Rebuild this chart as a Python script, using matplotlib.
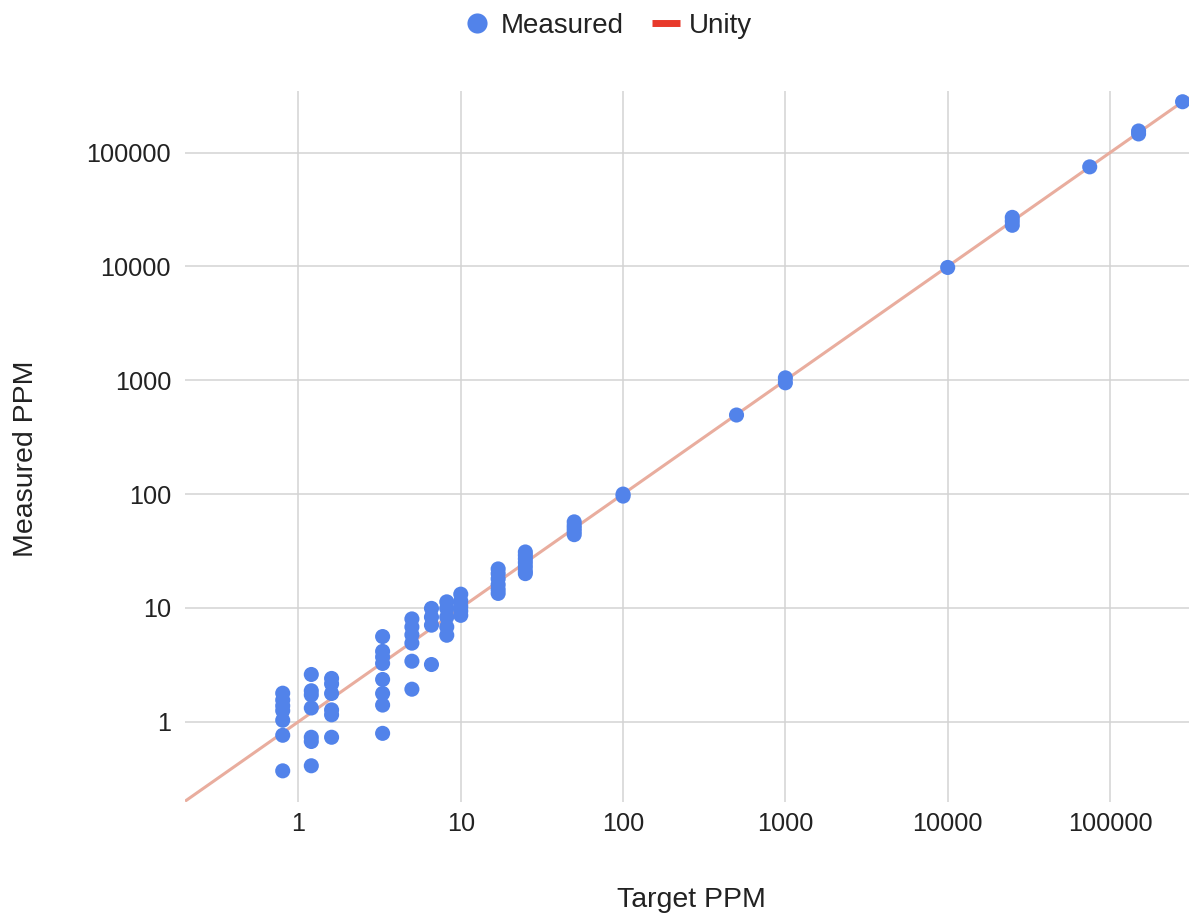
import matplotlib
matplotlib.use("Agg")
import matplotlib.pyplot as plt
from matplotlib.lines import Line2D

plt.rcParams['font.family'] = ['Liberation Sans', 'DejaVu Sans']

# ---- data ----
target_levels = [0.8, 1.2, 1.6, 3.3, 5, 6.6, 8.2, 10, 17, 25, 50, 100,
                 500, 1000, 10000, 25000, 75000, 150000, 280000]
measured_groups = [
    [1.78, 1.55, 1.38, 1.25, 1.03, 0.76, 0.37],
    [2.6, 1.87, 1.72, 1.32, 0.73, 0.67, 0.41],
    [2.4, 2.15, 1.77, 1.27, 1.15, 0.73],
    [5.6, 4.15, 3.7, 3.25, 2.35, 1.77, 1.40, 0.79],
    [8.0, 6.8, 5.8, 4.9, 3.4, 1.93],
    [9.9, 8.3, 7.05, 3.18],
    [11.3, 9.9, 8.3, 6.8, 5.75],
    [13.2, 11.5, 10.3, 9.4, 8.6],
    [22, 20, 18, 16, 14.5, 13.4],
    [31, 29, 27, 25, 23, 21, 20],
    [57, 53, 50, 47, 44],
    [100, 96],
    [495],
    [1050, 950],
    [9800],
    [27000, 25000, 23000],
    [75000],
    [155000, 146000],
    [280000],
]
unity_range = [0.2, 306700]
x_ticks = [1, 10, 100, 1000, 10000, 100000]
y_ticks = [1, 10, 100, 1000, 10000, 100000]
tick_labels = ["1", "10", "100", "1000", "10000", "100000"]

xs, ys = [], []
for t, grp in zip(target_levels, measured_groups):
    for m in grp:
        xs.append(t)
        ys.append(m)

# ---- figure ----
W, H = 1189, 915
fig = plt.figure(figsize=(W / 100, H / 100), dpi=100)
ax = fig.add_axes([185 / W, 1 - 802 / H, (1189 - 185) / W, (802 - 91) / H])

ax.set_xscale('log')
ax.set_yscale('log')
ax.set_xlim(0.2, 306700)
ax.set_ylim(0.197, 348000)

blue = '#5283ea'
red = '#e8392b'
unity_col = '#e9ad9e'

ax.plot(unity_range, unity_range, color=unity_col, lw=2.2,
        solid_capstyle='butt', zorder=2)
ax.scatter(xs, ys, s=118, color=blue, edgecolors='none', zorder=3)

ax.set_xticks(x_ticks)
ax.set_xticklabels(tick_labels)
ax.set_yticks(y_ticks)
ax.set_yticklabels(tick_labels)
ax.minorticks_off()
ax.tick_params(axis='both', length=0, labelsize=18.2, colors='#222222')
ax.tick_params(axis='x', pad=7)
ax.tick_params(axis='y', pad=10)
ax.grid(True, color='#d3d3d3', lw=1.1, zorder=0)
ax.set_axisbelow(True)
for s in ax.spines.values():
    s.set_visible(False)

# axis titles
fig.text(33 / W, 1 - 459 / H, 'Measured PPM', rotation=90,
         rotation_mode='anchor', ha='center', va='baseline',
         fontsize=20.5, color='#222222')
fig.text(691.5 / W, 1 - 907 / H, 'Target PPM', ha='center', va='baseline',
         fontsize=20.5, color='#222222')

# legend
handles = [
    Line2D([], [], marker='o', linestyle='none', markersize=14.5,
           markerfacecolor=blue, markeredgecolor='none'),
    Line2D([], [], color=red, lw=5, solid_capstyle='butt'),
]
fig.legend(handles, ['Measured', 'Unity'], loc='center',
           bbox_to_anchor=(608 / W, 1 - 26 / H), ncol=2, frameon=False,
           fontsize=20, handlelength=1.0, handletextpad=0.35,
           columnspacing=1.0, borderpad=0, labelcolor='#222222')

fig.savefig('out.png', dpi=100)
